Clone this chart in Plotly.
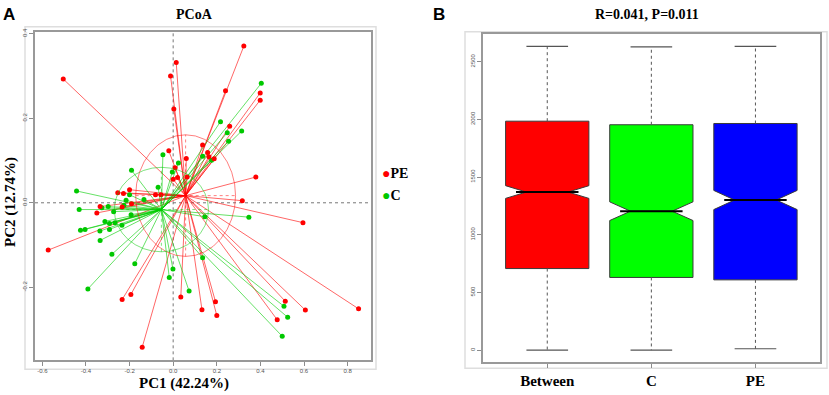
import plotly.graph_objects as go

# ---------------- Panel A data (PCoA) ----------------
pe_x = [-0.504, 0.014, -0.012, 0.003, 0.324, 0.240, 0.399, 0.399, 0.259, 0.135,
        0.158, 0.164, 0.188, -0.020, 0.060, 0.009, 0.020, 0.000, 0.379, 0.317,
        -0.254, -0.228, -0.200, -0.081, -0.056, -0.191, -0.234, -0.335, -0.350, -0.573,
        0.595, -0.194, -0.234, 0.035, 0.132, 0.194, 0.200, -0.142, 0.514, 0.606,
        0.850, 0.477, 0.064]
pe_y = [0.293, 0.332, 0.300, 0.222, 0.371, 0.265, 0.260, 0.243, 0.181, 0.137,
        0.119, 0.109, 0.104, 0.123, 0.105, 0.083, 0.060, 0.056, 0.061, 0.005,
        0.024, 0.022, 0.031, 0.019, 0.019, -0.002, -0.010, -0.009, -0.024, -0.112,
        -0.047, -0.217, -0.229, -0.223, -0.253, -0.234, -0.267, -0.342, -0.233, -0.254,
        -0.251, -0.277, 0.061]
c_x = [-0.047, 0.024, -0.004, -0.191, -0.443, -0.200, -0.069, 0.404, 0.217, 0.248,
       0.314, 0.254, 0.135, 0.176, -0.134, -0.216, -0.226, -0.298, -0.327, -0.431,
       -0.273, -0.193, -0.313, -0.292, -0.267, -0.235, -0.336, -0.292, -0.425, -0.404,
       -0.335, -0.281, -0.176, -0.001, -0.018, -0.391, 0.073, 0.135, 0.145, 0.347,
       0.508, 0.525, 0.500]
c_y = [0.114, 0.094, 0.073, 0.077, 0.028, 0.019, 0.037, 0.283, 0.192, 0.166,
       0.170, 0.146, 0.110, 0.101, 0.008, 0.006, -0.006, -0.009, -0.012, -0.016,
       -0.021, -0.028, -0.044, -0.049, -0.047, -0.053, -0.067, -0.063, -0.065, -0.063,
       -0.089, -0.122, -0.144, -0.157, -0.177, -0.204, -0.209, -0.130, -0.033, -0.034,
       -0.245, -0.271, -0.316]
pe_center = [0.057, 0.017]
c_center = [-0.054, -0.016]
pe_semi_axes = [0.229, 0.144]
c_semi_axes = [0.216, 0.100]
pcoa_xticks = [-0.6, -0.4, -0.2, 0.0, 0.2, 0.4, 0.6, 0.8]
pcoa_xticktext = ["-0.6", "-0.4", "-0.2", "0.0", "0.2", "0.4", "0.6", "0.8"]
pcoa_yticks = [-0.2, 0.0, 0.2, 0.4]
pcoa_yticktext = ["-0.2", "0.0", "0.2", "0.4"]

# ---------------- Panel B data (ANOSIM boxplot) ----------------
groups = ["Between", "C", "PE"]
box_colors = ["#FF0000", "#00FF00", "#0000FF"]
box_low = [0, 0, 12]
box_q1 = [707, 630, 609]
box_median = [1370, 1204, 1301]
box_q3 = [1984, 1953, 1964]
box_high = [2633, 2628, 2633]
box_notch = [55, 81, 83]
box_yticks = [0, 500, 1000, 1500, 2000, 2500]

W, H = 829, 395
SERIF = "Liberation Serif"
SANS = "Liberation Sans"

fig = go.Figure()

# ---- spokes (centroid -> sample) ----
def spokes(xs, ys, c):
    sx, sy = [], []
    for x, y in zip(xs, ys):
        sx += [c[0], x, None]
        sy += [c[1], y, None]
    return sx, sy

for xs, ys, cen, lc in [(pe_x, pe_y, pe_center, "rgba(255,0,0,0.6)"),
                         (c_x, c_y, c_center, "rgba(0,205,0,0.6)")]:
    sx, sy = spokes(xs, ys, cen)
    fig.add_trace(go.Scatter(x=sx, y=sy, mode="lines", line=dict(color=lc, width=1),
                             hoverinfo="skip", showlegend=False, xaxis="x", yaxis="y"))

for xs, ys, mc, name in [(c_x, c_y, "#00C800", "C"), (pe_x, pe_y, "#FF0000", "PE")]:
    fig.add_trace(go.Scatter(x=xs, y=ys, mode="markers", name=name,
                             marker=dict(color=mc, size=5), showlegend=False,
                             xaxis="x", yaxis="y"))

shapes = []
# ellipses
for cen, ax, col in [(pe_center, pe_semi_axes, "rgba(255,0,0,0.5)"),
                     (c_center, c_semi_axes, "rgba(0,200,0,0.5)")]:
    shapes.append(dict(type="circle", xref="x", yref="y",
                       x0=cen[0] - ax[0], x1=cen[0] + ax[0],
                       y0=cen[1] - ax[1], y1=cen[1] + ax[1],
                       line=dict(color=col, width=1)))
    shapes.append(dict(type="line", xref="x", yref="y",
                       x0=cen[0] - ax[0], x1=cen[0] + ax[0], y0=cen[1], y1=cen[1],
                       line=dict(color=col, width=1, dash="dot")))
    shapes.append(dict(type="line", xref="x", yref="y",
                       x0=cen[0], x1=cen[0], y0=cen[1] - ax[1], y1=cen[1] + ax[1],
                       line=dict(color=col, width=1, dash="dot")))
# zero reference lines
shapes.append(dict(type="line", xref="x", yref="y domain", x0=0, x1=0, y0=0, y1=1,
                   line=dict(color="#777777", width=1, dash="dot"), layer="below"))
shapes.append(dict(type="line", xref="x domain", yref="y", x0=0, x1=1, y0=0, y1=0,
                   line=dict(color="#777777", width=1, dash="dot"), layer="below"))
# outer light frames
shapes.append(dict(type="rect", xref="paper", yref="paper",
                   x0=25 / W, x1=376 / W, y0=1 - 369 / H, y1=1 - 23 / H,
                   line=dict(color="#dedede", width=1.5), layer="below"))
shapes.append(dict(type="rect", xref="paper", yref="paper",
                   x0=465 / W, x1=827 / W, y0=1 - 368 / H, y1=1 - 28 / H,
                   line=dict(color="#dedede", width=1.5), layer="below"))

# ---- Panel B boxes ----
positions = list(range(len(groups)))
box_w = 0.8
notch_w = 0.25
for i, g in enumerate(groups):
    fig.add_trace(go.Box(x=[positions[i]], q1=[box_q1[i]], median=[box_median[i]],
                         q3=[box_q3[i]], lowerfence=[box_q1[i]], upperfence=[box_q3[i]],
                         notched=True, notchspan=[box_notch[i]], notchwidth=notch_w,
                         width=box_w, whiskerwidth=0, fillcolor=box_colors[i],
                         line=dict(color="#3a3a3a", width=1), name=g, showlegend=False,
                         xaxis="x2", yaxis="y2"))
    fig.add_trace(go.Scatter(x=[positions[i], positions[i], None, positions[i], positions[i]],
                             y=[box_q3[i], box_high[i], None, box_q1[i], box_low[i]],
                             mode="lines", line=dict(color="#555555", width=1, dash="dot"),
                             showlegend=False, hoverinfo="skip", xaxis="x2", yaxis="y2"))
    cap = box_w / 4
    fig.add_trace(go.Scatter(x=[positions[i] - cap, positions[i] + cap, None,
                                positions[i] - cap, positions[i] + cap],
                             y=[box_high[i], box_high[i], None, box_low[i], box_low[i]],
                             mode="lines", line=dict(color="#555555", width=1.2),
                             showlegend=False, hoverinfo="skip", xaxis="x2", yaxis="y2"))
    mh = box_w / 2 * (1 - notch_w)
    fig.add_trace(go.Scatter(x=[positions[i] - mh, positions[i] + mh],
                             y=[box_median[i], box_median[i]],
                             mode="lines", line=dict(color="#000000", width=2),
                             showlegend=False, hoverinfo="skip", xaxis="x2", yaxis="y2"))

tickfont = dict(family=SANS, size=6, color="#555555")
common_axis = dict(showline=True, mirror=True, linecolor="#999999", linewidth=1.5,
                   ticks="outside", ticklen=4, tickcolor="#8c8c8c", tickwidth=1,
                   showgrid=False, zeroline=False, tickfont=tickfont)

fig.update_layout(
    width=W, height=H, margin=dict(l=0, r=0, t=0, b=0),
    paper_bgcolor="white", plot_bgcolor="white", showlegend=False,
    xaxis=dict(domain=[35 / W, 371 / W], range=[-0.6335, 0.907],
               tickvals=pcoa_xticks, ticktext=pcoa_xticktext, anchor="y", **common_axis),
    yaxis=dict(domain=[1 - 360 / H, 1 - 28 / H], range=[-0.373, 0.405],
               tickvals=pcoa_yticks, ticktext=pcoa_yticktext, tickangle=-90,
               anchor="x", **common_axis),
    xaxis2=dict(domain=[482.7 / W, 820 / W], range=[-0.62, 2.62],
                tickvals=positions, ticktext=groups, anchor="y2",
                **{k: v for k, v in common_axis.items() if k != "tickfont"},
                tickfont=dict(family=SERIF, size=15, color="#000000", weight="bold")),
    yaxis2=dict(domain=[1 - 361.7 / H, 1 - 30 / H], range=[-103, 2742],
                tickvals=box_yticks, tickangle=-90, anchor="x2", **common_axis),
    shapes=shapes,
)

ann = []
def add_text(x, y, text, font, xanchor="center", **kw):
    ann.append(dict(x=x / W, y=1 - y / H, xref="paper", yref="paper", text=text,
                    showarrow=False, font=font, xanchor=xanchor, yanchor="middle", **kw))

bold_serif14 = dict(family=SERIF, size=14, color="#000000", weight="bold")
add_text(9, 11, "A", dict(family=SANS, size=17, color="#000000", weight="bold"))
add_text(439, 11, "B", dict(family=SANS, size=17, color="#000000", weight="bold"))
add_text(194, 11, "PCoA", bold_serif14)
add_text(647, 11, "R=0.041, P=0.011", bold_serif14)
add_text(183.5, 383, "PC1 (42.24%)", dict(family=SERIF, size=15, color="#000000", weight="bold"))
add_text(11, 200, "PC2 (12.74%)", dict(family=SERIF, size=15, color="#000000", weight="bold"),
         textangle=-90)
legend_font = dict(family=SERIF, size=14, color="#000000", weight="bold")
add_text(380, 171, "<span style='color:#FF0000'>●</span>PE", legend_font, xanchor="left")
add_text(380, 193, "<span style='color:#00C800'>●</span>C", legend_font, xanchor="left")
fig.update_layout(annotations=ann)

fig.write_html("out.html", config={"displayModeBar": False})

# remove the browser's default page margin so the figure sits at the window origin
with open("out.html", "r", encoding="utf-8") as f:
    html = f.read()
html = html.replace("<head>", "<head><style>html,body{margin:0;padding:0;overflow:hidden;}</style>", 1)
with open("out.html", "w", encoding="utf-8") as f:
    f.write(html)
